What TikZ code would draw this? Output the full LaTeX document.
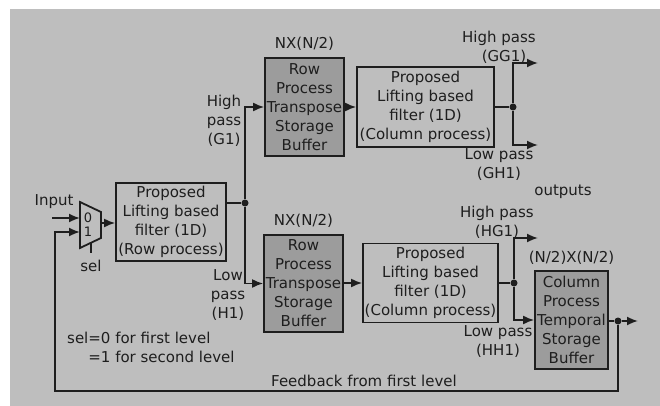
\documentclass[tikz,border=0pt]{standalone}
\usepackage{fontspec}
\setmainfont{DejaVu Sans}
\usetikzlibrary{arrows.meta,positioning,calc}
\definecolor{panel}{HTML}{BEBEBE}
\definecolor{bufgray}{HTML}{9C9C9C}
\definecolor{ink}{HTML}{1E1E1E}
\tikzset{
  blk/.style={draw=ink, line width=1.8pt, align=center, inner sep=0pt, text=ink, font=\fontsize{15}{19}\selectfont},
  blkd/.style={blk, fill=bufgray},
  wire/.style={line width=1.8pt, draw=ink},
  ar/.style={wire, -{Latex[length=11pt,width=9pt]}},
  lbl/.style={align=center, inner sep=0pt, text=ink, font=\fontsize{15}{19}\selectfont},
  bit/.style={lbl, font=\fontsize{13}{15}\selectfont},
  dot/.style={circle, fill=ink, inner sep=0pt, minimum size=7pt},
}

\begin{document}
\begin{tikzpicture}[x=1pt, y=-1pt]
    \useasboundingbox (0,0) rectangle (660,406);
    \fill[panel] (10,9) rectangle (660,406);

    % 2:1 mux in front of the row filter
    \draw[wire, line join=miter] (80,202) -- (101,212) -- (101,238) -- (80,248) -- cycle;
    \coordinate (mux-in0) at (80,218);
    \coordinate (mux-in1) at (80,232);
    \coordinate (mux-out) at (101,223);
    \coordinate (mux-sel) at (91,243);
    \coordinate (sel-pin) at (91,253);
    \node[bit] (bit0) at (88,218) {0};
    \node[bit] (bit1) at (88,232) {1};
    \node[lbl] (sel) at (91,266) {sel};
    \node[lbl] (inlbl) at (54,202) {Input};
    \coordinate (in) at (52,218);
    \draw[wire] (mux-sel) -- (sel-pin);
    \draw[ar] (in) -- (mux-in0);

    % first level: row filter, transpose buffers, column filters
    \node[blk, minimum width=110pt, minimum height=78pt] (rowf) at (171,222) {Proposed\\Lifting based\\filter (1D)\\(Row process)};
    \draw[ar] (mux-out) -- (rowf.west |- mux-out);

    \node[blkd, minimum width=79pt, minimum height=98pt] (tb1) at (304.5,107) {Row\\Process\\Transpose\\Storage\\Buffer};
    \node[blkd, minimum width=79pt, minimum height=97pt] (tb2) at (303.5,283.5) {Row\\Process\\Transpose\\Storage\\Buffer};
    \node[lbl, above=6pt of tb1] (tb1size) {NX(N/2)};
    \node[lbl, above=6pt of tb2] (tb2size) {NX(N/2)};

    \node[dot] (rsplit) at (245,203) {};
    \draw[wire] (rowf.east |- rsplit) -- (rsplit);
    \draw[ar] (rsplit) |- (tb1.west);
    \draw[ar] (rsplit) |- (tb2.west);
    \node[lbl] (g1) at (224,121) {High\\pass\\(G1)};
    \node[lbl] (h1) at (228,295) {Low\\pass\\(H1)};

    \node[blk, minimum width=137pt, minimum height=80pt] (cf1) at (425.5,107) {Proposed\\Lifting based\\filter (1D)\\(Column process)};
    \node[blk, minimum width=135pt, minimum height=79pt] (cf2) at (430.5,283) {Proposed\\Lifting based\\filter (1D)\\(Column process)};
    \draw[ar] (tb1.east) -- (cf1.west);
    \draw[ar] (tb2.east |- cf2.west) -- (cf2.west);

    % upper column filter outputs
    \node[dot] (usplit) at (513,107) {};
    \coordinate (gg1) at (538,63);
    \coordinate (gh1) at (538,145);
    \draw[wire] (cf1.east) -- (usplit);
    \draw[ar] (usplit) |- (gg1);
    \draw[ar] (usplit) |- (gh1);
    \node[lbl] (gg1lbl) at (499,47) {High pass\\\hspace*{10pt}(GG1)};
    \node[lbl] (gh1lbl) at (499,165) {Low pass\\(GH1)};
    \node[lbl] (outlbl) at (563,192) {outputs};

    % lower column filter outputs and temporal buffer
    \node[blkd, minimum width=73pt, minimum height=98pt] (tmp) at (571.5,320) {Column\\Process\\Temporal\\Storage\\Buffer};
    \node[lbl, above=5pt of tmp] (tmpsize) {(N/2)X(N/2)};
    \node[dot] (lsplit) at (514,283) {};
    \coordinate (hg1) at (538,238);
    \draw[wire] (cf2.east) -- (lsplit);
    \draw[ar] (lsplit) |- (hg1);
    \draw[ar] (lsplit) |- (tmp.west);
    \node[lbl] (hg1lbl) at (497,222) {High pass\\(HG1)};
    \node[lbl] (hh1lbl) at (498,342) {Low pass\\(HH1)};

    % output and feedback into the mux
    \node[dot] (fb) at (618,321) {};
    \coordinate (out) at (638,321);
    \coordinate (fbr) at (618,391);
    \coordinate (fbl) at (55,391);
    \draw[wire] (tmp.east |- fb) -- (fb);
    \draw[ar] (fb) -- (out);
    \draw[ar] (fb) -- (fbr) -- (fbl) |- (mux-in1);
    \node[lbl] (fblbl) at (364,381) {Feedback from first level};

    \node[lbl, anchor=west, align=left] (selnote) at (67,347) {sel=0 for first level\\\phantom{sel}=1 for second level};
\end{tikzpicture}
\end{document}
